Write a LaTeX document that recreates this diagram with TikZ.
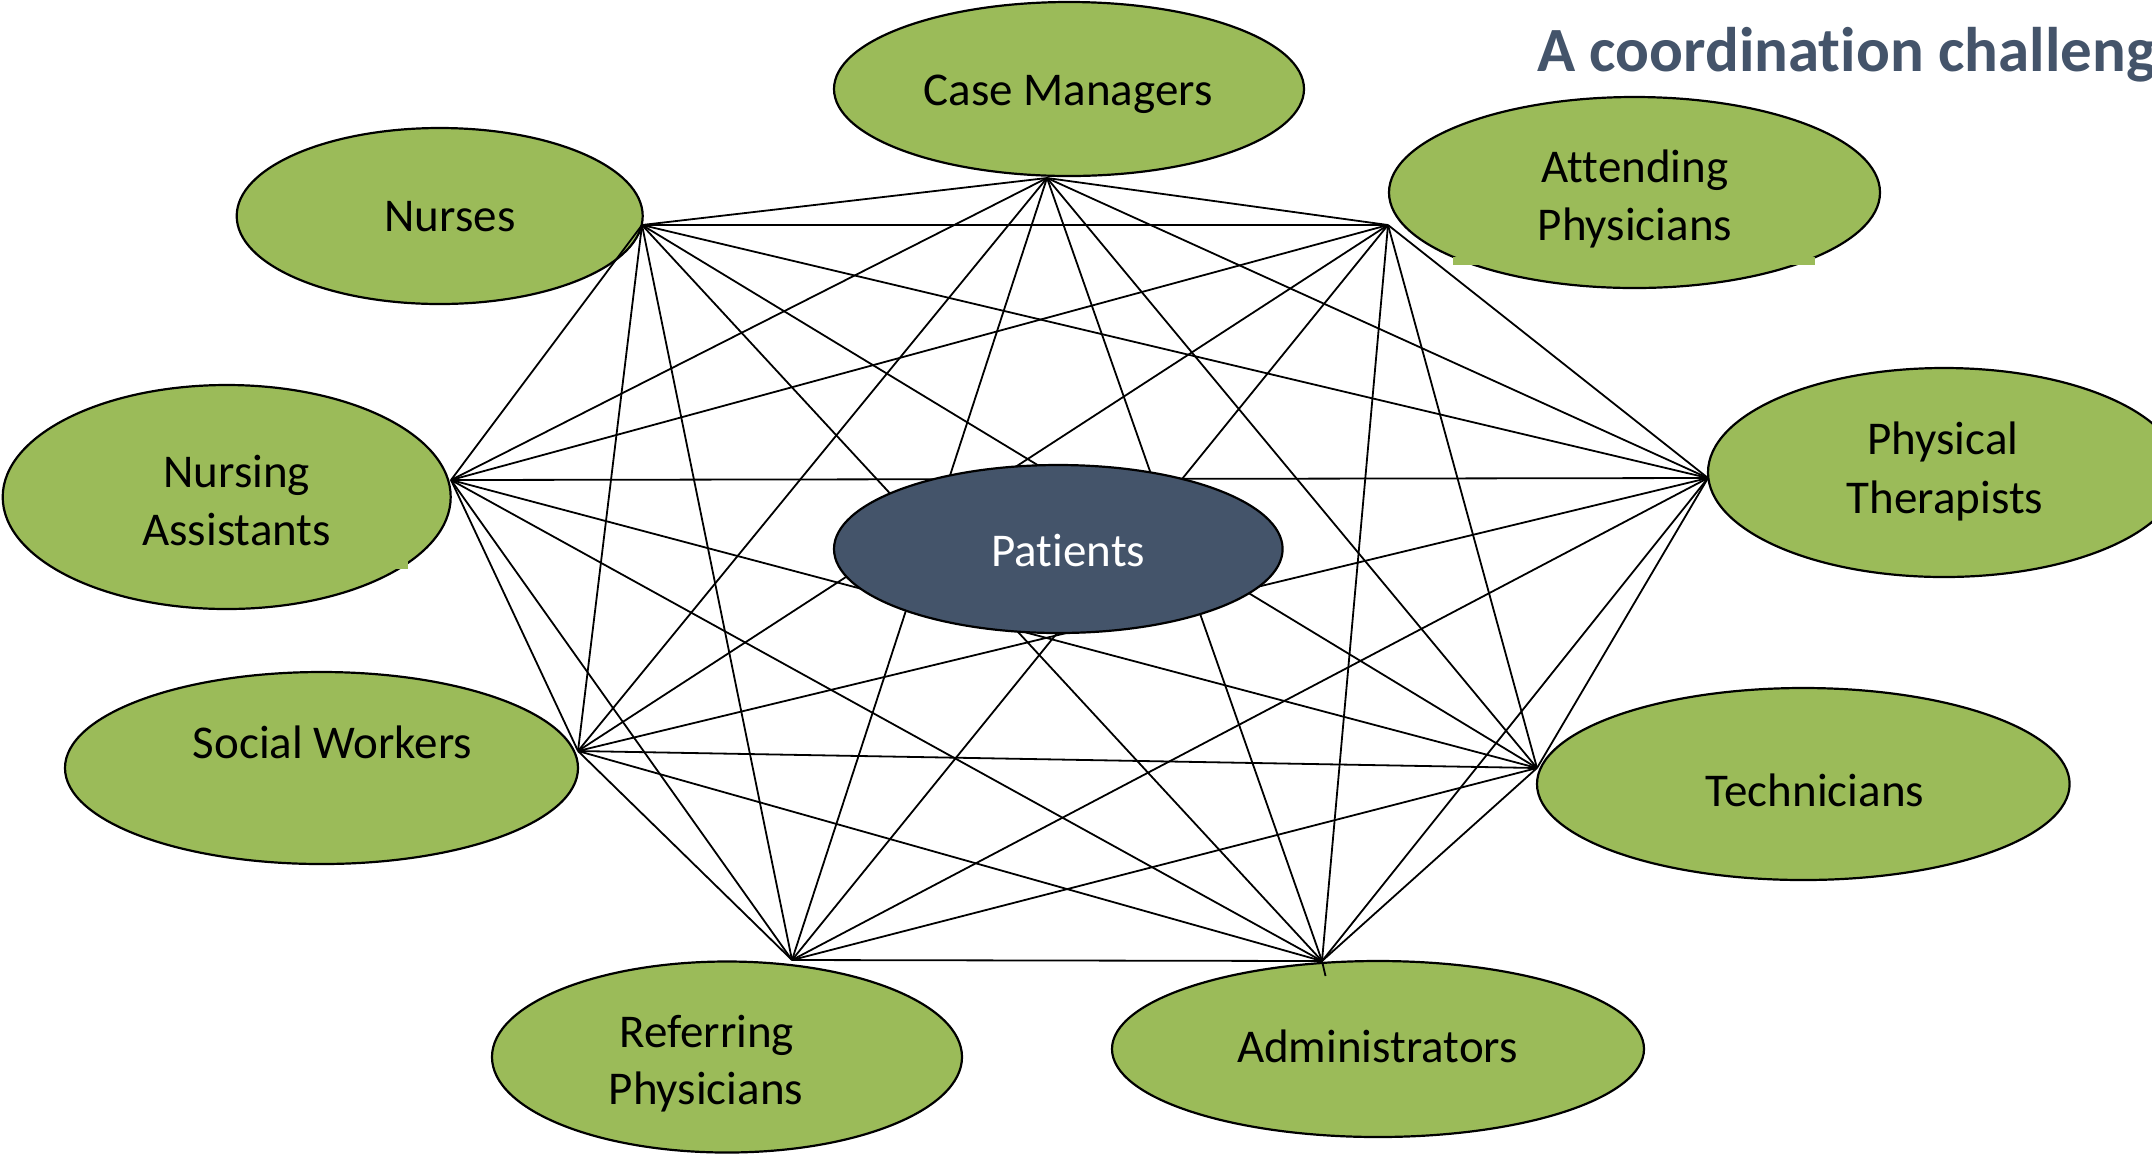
\documentclass[tikz,border=0pt]{standalone}
\usepackage{fontspec}
\setmainfont{Carlito}[Ligatures=NoCommon]
\usetikzlibrary{shapes.geometric}
\definecolor{grn}{HTML}{9BBB59}
\definecolor{slate}{HTML}{44546A}
\begin{document}
\begin{tikzpicture}[x=0.5pt,y=-0.5pt,
  role/.style={ellipse, draw=black, line width=1.1pt, fill=grn, inner sep=0pt},
  lbl/.style={anchor=base, inner sep=0pt, font=\fontsize{23.5}{28}\selectfont},
  edgeline/.style={line width=0.9pt, draw=black}]
\useasboundingbox (0,0) rectangle (2152,1153);
\clip (0,0) rectangle (2152,1153);
% role ellipses
\node[role, minimum width=235pt, minimum height=87pt] (cm) at (1069,89) {};
\node[role, minimum width=203pt, minimum height=88pt] (nu) at (439.7,216) {};
\node[role, minimum width=245.5pt, minimum height=95.5pt] (at) at (1634.5,192.5) {};
\node[role, minimum width=236pt, minimum height=104.5pt] (pt) at (1944,472.5) {};
\node[role, minimum width=224pt, minimum height=112pt] (na) at (226.7,497) {};
\node[role, minimum width=256.5pt, minimum height=96pt] (sw) at (321.5,768) {};
\node[role, minimum width=266.3pt, minimum height=96pt] (te) at (1803.3,784) {};
\node[role, minimum width=235pt, minimum height=95.5pt] (rp) at (727,1057) {};
\node[role, minimum width=266pt, minimum height=88pt] (ad) at (1378,1049) {};
% small green patches
\fill[grn] (1453,257) rectangle (1815,265);
\fill[grn] (65,560) rectangle (408,569);
% connection points
\coordinate (cmP) at (1047,178);
\coordinate (atP) at (1388,225);
\coordinate (ptP) at (1708,478);
\coordinate (teP) at (1537,768);
\coordinate (adP) at (1322,961);
\coordinate (rpP) at (792,960);
\coordinate (swP) at (578,751);
\coordinate (naP) at (451,480);
\coordinate (nuP) at (642,225);
\coordinate (adTail) at (1325.5,976);
% all-to-all links
\foreach \a [count=\i] in {cmP,atP,ptP,teP,adP,rpP,swP,naP,nuP}{
  \foreach \b [count=\j] in {cmP,atP,ptP,teP,adP,rpP,swP,naP,nuP}{
    \ifnum\j>\i \draw[edgeline] (\a) -- (\b); \fi
  }
}
\draw[edgeline] (adP) -- (adTail);
% patients
\node[ellipse, draw=black, line width=1.1pt, fill=slate, inner sep=0pt,
  minimum width=224.3pt, minimum height=84pt] (pa) at (1058.3,549) {};
% labels
\node[lbl] (tcm) at (1068,105) {Case Managers};
\node[lbl] (tnu) at (450,231.7) {Nurses};
\node[lbl] (tat1) at (1635,182.7) {Attending};
\node[lbl] (tat2) at (1635,240.7) {Physicians};
\node[lbl] (tpt1) at (1943,454) {Physical};
\node[lbl] (tpt2) at (1945,513) {Therapists};
\node[lbl] (tna1) at (236.7,487.3) {Nursing};
\node[lbl] (tna2) at (236.7,545) {Assistants};
\node[lbl] (tsw) at (332.5,758.3) {Social Workers};
\node[lbl] (tte) at (1815,806.7) {Technicians};
\node[lbl] (trp1) at (706.7,1047.3) {Referring};
\node[lbl] (trp2) at (706,1104.3) {Physicians};
\node[lbl] (tad) at (1377.5,1062.3) {Administrators};
\node[lbl, text=white] (tpa) at (1068.3,566.7) {Patients};
\node[anchor=base west, inner sep=0pt, text=slate, font=\bfseries\fontsize{31.5}{38}\selectfont] (title) at (1537,71.7) {A coordination challeng};
\end{tikzpicture}
\end{document}
